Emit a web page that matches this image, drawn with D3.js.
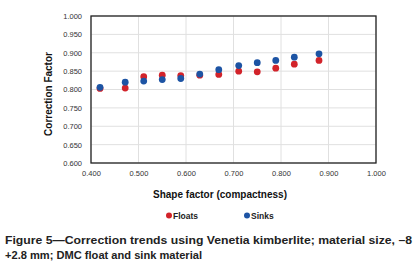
<!DOCTYPE html>
<html>
<head>
<meta charset="utf-8">
<script src="https://cdn.jsdelivr.net/npm/d3@7"></script>
<style>
  body { margin: 0; background: #fff; }
  svg { display: block; }
</style>
</head>
<body>
<svg id="chart" width="417" height="276"></svg>
<script>
// shape factor values (x), shared by both series
const shapeFactor = [0.419, 0.472, 0.511, 0.550, 0.589, 0.629, 0.669, 0.711, 0.750, 0.789, 0.828, 0.880];
const floats = [0.803, 0.804, 0.835, 0.839, 0.838, 0.839, 0.841, 0.850, 0.848, 0.858, 0.869, 0.879];
const sinks = [0.806, 0.820, 0.823, 0.827, 0.830, 0.842, 0.854, 0.865, 0.873, 0.879, 0.888, 0.897];
const xTicks = [0.4, 0.5, 0.6, 0.7, 0.8, 0.9, 1.0];
const yTicks = [0.6, 0.65, 0.7, 0.75, 0.8, 0.85, 0.9, 0.95, 1.0];
const seriesNames = ["Floats", "Sinks"];
const seriesColors = ["#d2232a", "#1d54a4"];

const svg = d3.select("#chart");
const plot = { left: 91, top: 16, right: 376, bottom: 163 };
const font = "Liberation Sans, Arial, sans-serif";

const x = d3.scaleLinear().domain([0.4, 1.0]).range([plot.left, plot.right]);
const y = d3.scaleLinear().domain([0.6, 1.0]).range([plot.bottom, plot.top]);

// gridlines
svg.append("g")
  .selectAll("line")
  .data(xTicks)
  .enter()
  .append("line")
  .attr("x1", d => x(d)).attr("x2", d => x(d))
  .attr("y1", plot.top).attr("y2", plot.bottom)
  .attr("stroke", "#e0e0e0").attr("stroke-width", 1);

svg.append("g")
  .selectAll("line")
  .data(yTicks)
  .enter()
  .append("line")
  .attr("x1", plot.left).attr("x2", plot.right)
  .attr("y1", d => y(d)).attr("y2", d => y(d))
  .attr("stroke", "#e0e0e0").attr("stroke-width", 1);

// axes (labels only, frame drawn separately)
const xAxis = svg.append("g")
  .attr("transform", "translate(0," + plot.bottom + ")")
  .call(d3.axisBottom(x).tickValues(xTicks).tickFormat(d3.format(".3f")).tickSize(0).tickPadding(8));
const yAxis = svg.append("g")
  .attr("transform", "translate(" + plot.left + ",0)")
  .call(d3.axisLeft(y).tickValues(yTicks).tickFormat(d3.format(".3f")).tickSize(0).tickPadding(9));

[xAxis, yAxis].forEach(a => {
  a.select(".domain").remove();
  a.selectAll("text")
    .attr("fill", "#333")
    .style("font-family", font)
    .style("font-size", "7.5px");
});

// plot frame
svg.append("rect")
  .attr("x", plot.left).attr("y", plot.top)
  .attr("width", plot.right - plot.left).attr("height", plot.bottom - plot.top)
  .attr("fill", "none").attr("stroke", "#222").attr("stroke-width", 1.3);

// points: floats first, sinks drawn on top
const series = [floats, sinks];
series.forEach((vals, i) => {
  svg.append("g")
    .selectAll("circle")
    .data(vals)
    .enter()
    .append("circle")
    .attr("cx", (d, j) => x(shapeFactor[j]))
    .attr("cy", d => y(d))
    .attr("r", 3.4)
    .attr("fill", seriesColors[i]);
});

// axis titles
svg.append("text")
  .attr("x", 220)
  .attr("y", 198)
  .attr("text-anchor", "middle")
  .style("font-family", font)
  .style("font-size", "10px")
  .style("font-weight", "bold")
  .attr("fill", "#111")
  .text("Shape factor (compactness)");

svg.append("text")
  .attr("transform", "translate(52,94) rotate(-90)")
  .attr("text-anchor", "middle")
  .style("font-family", font)
  .style("font-size", "10px")
  .style("font-weight", "bold")
  .attr("fill", "#111")
  .text("Correction Factor");

// legend
const legendX = [169, 247];
seriesNames.forEach((name, i) => {
  svg.append("circle")
    .attr("cx", legendX[i]).attr("cy", 215.5)
    .attr("r", 3).attr("fill", seriesColors[i]);
  svg.append("text")
    .attr("x", legendX[i] + 4).attr("y", 218.5)
    .style("font-family", font)
    .style("font-size", "8.5px")
    .style("font-weight", "bold")
    .attr("fill", "#222")
    .text(name);
});

// caption
const caption = [
  "Figure 5\u2014Correction trends using Venetia kimberlite; material size, \u20138",
  "+2.8 mm; DMC float and sink material"
];
[[caption[0], 244, 407], [caption[1], 259, 197]].forEach(([t, yy, w]) => {
  svg.append("text")
    .attr("x", 5).attr("y", yy)
    .style("font-family", font)
    .style("font-size", "11px")
    .style("font-weight", "bold")
    .attr("fill", "#222")
    .attr("textLength", w)
    .attr("lengthAdjust", "spacingAndGlyphs")
    .text(t);
});
</script>
</body>
</html>
